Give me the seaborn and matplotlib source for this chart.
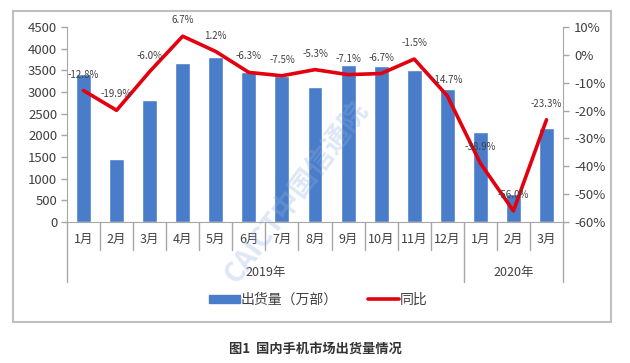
import matplotlib
matplotlib.use("Agg")
import matplotlib.pyplot as plt
import matplotlib.transforms as mtrans
from matplotlib.lines import Line2D
from matplotlib.patches import Patch, Rectangle
import pandas as pd
import seaborn as sns

# data
months = ["1月", "2月", "3月", "4月", "5月", "6月", "7月", "8月", "9月",
          "10月", "11月", "12月", "1月", "2月", "3月"]
shipments = [3417, 1449, 2816, 3660, 3815, 3472, 3367, 3110, 3626,
             3598, 3498, 3071, 2085, 638, 2176]
yoy = [-12.8, -19.9, -6.0, 6.7, 1.2, -6.3, -7.5, -5.3, -7.1,
       -6.7, -1.5, -14.7, -38.9, -56.0, -23.3]
years = ["2019年", "2020年"]
year_counts = [12, 3]
left_ticks = list(range(0, 4501, 500))
right_ticks = [10, 0, -10, -20, -30, -40, -50, -60]

BLUE = "#4A7DC9"
RED = "#E3000F"
GRAY = "#A6A6A6"
TXT = "#404040"

sns.set_style("white")
plt.rcParams["font.family"] = ["Noto Sans CJK SC", "DejaVu Sans"]

df = pd.DataFrame({"idx": range(len(months)), "ship": shipments, "yoy": yoy})

fig = plt.figure(figsize=(6.3, 3.63), dpi=100)
ax = fig.add_axes([0.1063, 0.3884, 0.7874, 0.5372])
ax.set_facecolor("none")

sns.barplot(data=df, x="idx", y="ship", color=BLUE, width=0.45,
            saturation=1, ax=ax)
ax.set_ylim(0, 4500)
ax.set_yticks(left_ticks)
ax.set_xticks(range(len(months)))
ax.set_xticklabels(months)
ax.set_xlabel("")
ax.set_ylabel("")

ax2 = ax.twinx()
sns.lineplot(data=df, x="idx", y="yoy", color=RED, lw=2.6, ax=ax2)
ax2.set_ylim(-60, 10)
ax2.set_yticks(right_ticks)
ax2.set_yticklabels([f"{t}%" for t in right_ticks])
ax2.set_xlabel("")
ax2.set_ylabel("")
ax.set_xlim(-0.5, len(months) - 0.5)

for i, v in enumerate(yoy):
    ax2.annotate(f"{v:.1f}%", (i, v), xytext=(0, 11.5),
                 textcoords="offset points", ha="center", va="center",
                 fontsize=7, color=TXT)

# spines and ticks
for a in (ax, ax2):
    a.spines["top"].set_visible(False)
ax.spines["right"].set_visible(False)
ax2.spines["left"].set_visible(False)
ax2.spines["bottom"].set_visible(False)
ax.spines["left"].set_color(GRAY)
ax.spines["bottom"].set_color(GRAY)
ax2.spines["right"].set_color(GRAY)
ax.tick_params(axis="y", left=True, direction="out", length=4, width=1,
               color=GRAY, labelsize=9.5, labelcolor=TXT, pad=3)
ax2.tick_params(axis="y", right=True, direction="out", length=4, width=1,
                color=GRAY, labelsize=9.5, labelcolor=TXT, pad=4)
ax.tick_params(axis="x", length=0, labelsize=9, labelcolor=TXT, pad=8)

# two-level category axis separators
trans = mtrans.blended_transform_factory(ax.transData, ax.transAxes)
year_edges = [0]
for c in year_counts:
    year_edges.append(year_edges[-1] + c)
for b in range(len(months) + 1):
    low = -0.31 if b in year_edges else -0.145
    ax.plot([b - 0.5, b - 0.5], [0, low], transform=trans, color=GRAY,
            lw=1, clip_on=False)
for y, s, e in zip(years, year_edges[:-1], year_edges[1:]):
    ax.text((s + e - 1) / 2, -0.26, y, transform=trans, ha="center",
            va="center", fontsize=9, color=TXT)

# legend
handles = [Patch(color=BLUE), Line2D([], [], color=RED, lw=2.6)]
fig.legend(handles, ["出货量（万部）", "同比"], loc="center",
           bbox_to_anchor=(0.505, 0.174), ncol=2, frameon=False, fontsize=10,
           handlelength=2.2, handleheight=0.6, handletextpad=0.05,
           columnspacing=2.2, labelcolor=TXT)

# chart frame
fig.add_artist(Rectangle((0.0206, 0.113), 0.949, 0.857,
                         transform=fig.transFigure, fill=False,
                         edgecolor="#BFBFBF", lw=1.5))

# watermark
fig.text(0.47, 0.47, "CAICT中国信通院", rotation=53, fontsize=20,
         color="#8FB0E0", alpha=0.3, weight="bold", ha="center",
         va="center", zorder=10)

fig.text(0.5, 0.0386, "图1  国内手机市场出货量情况", ha="center", va="center",
         fontsize=9.5, weight="bold", color="#333333")

fig.savefig("out.png", dpi=100)
